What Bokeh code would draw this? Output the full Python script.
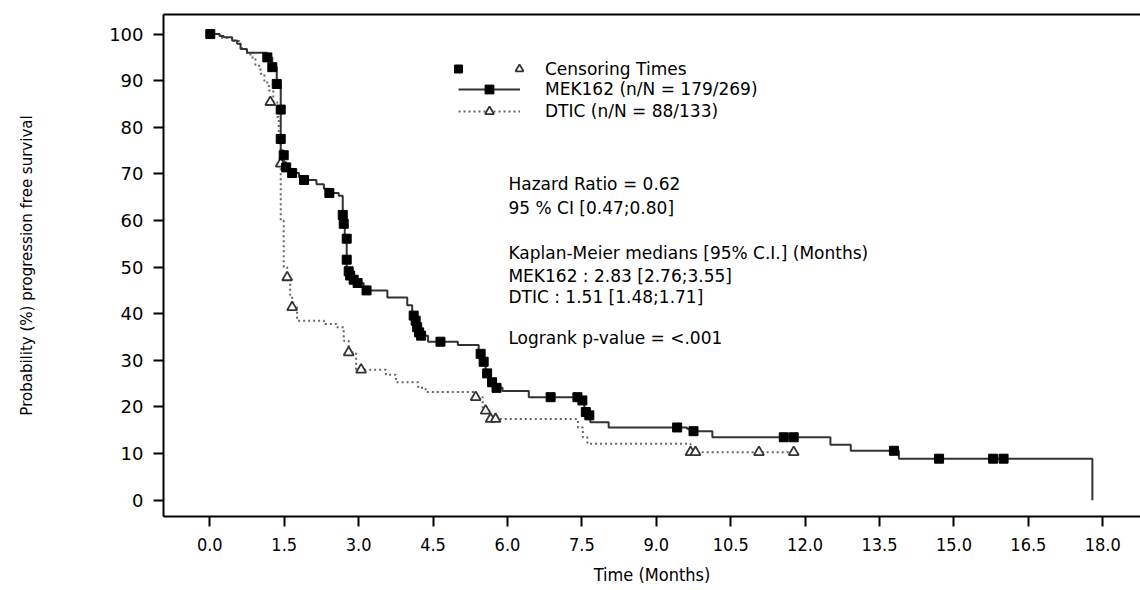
from bokeh.plotting import figure
from bokeh.models import (Range1d, FixedTicker, LinearAxis, Legend, LegendItem,
                          Label, PrintfTickFormatter)
from bokeh.embed import file_html
from bokeh.resources import INLINE

# ---------------- data ----------------
mek_time = [0, 0.20, 0.28, 0.45, 0.55, 0.62, 0.75, 1.16, 1.26, 1.35, 1.43, 1.49, 1.54, 1.62,
            1.80, 1.88, 2.15, 2.30, 2.40, 2.60, 2.68, 2.72, 2.76, 2.82, 2.88, 2.96, 3.10,
            3.58, 3.98, 4.08, 4.13, 4.17, 4.21, 4.25, 4.40, 5.00, 5.42, 5.49, 5.56, 5.64,
            5.73, 5.90, 6.43, 7.48, 7.55, 7.62, 7.67, 8.04, 9.62, 9.72, 10.13, 12.51,
            12.92, 13.89, 17.79]
mek_surv = [100, 99.6, 99.3, 98.6, 97.9, 96.8, 96.0, 95.0, 92.9, 89.3, 75.0, 72.5, 71.0, 70.2,
            69.3, 68.7, 67.8, 66.8, 65.9, 65.3, 61.0, 56.0, 49.5, 48.2, 47.3, 46.6, 45.0,
            43.5, 41.8, 40.0, 38.7, 37.3, 36.2, 35.3, 34.0, 33.3, 31.4, 29.7, 27.5, 25.5,
            24.1, 23.4, 22.1, 21.4, 19.2, 18.2, 16.7, 15.6, 15.3, 14.8, 13.5, 11.9,
            10.6, 8.9, 0]
mek_cens_time = [0.01, 1.16, 1.26, 1.35, 1.43, 1.43, 1.49, 1.54, 1.66, 1.90,
                 2.41, 2.68, 2.70, 2.76, 2.76, 2.80, 2.83, 2.90, 2.98, 3.16,
                 4.11, 4.15, 4.18, 4.22, 4.26, 4.65, 5.46, 5.52, 5.59, 5.69, 5.78,
                 6.87, 7.41, 7.51, 7.58, 7.65, 9.42, 9.75, 11.57, 11.77,
                 13.79, 14.70, 15.79, 16.00]
mek_cens_surv = [100, 95.0, 92.9, 89.3, 83.8, 77.5, 74.0, 71.4, 70.2, 68.7,
                 65.9, 61.2, 59.3, 56.1, 51.6, 49.1, 48.2, 47.3, 46.6, 45.0,
                 39.6, 38.5, 37.1, 36.0, 35.3, 34.0, 31.4, 29.7, 27.2, 25.3, 24.1,
                 22.1, 22.1, 21.4, 18.9, 18.2, 15.6, 14.8, 13.5, 13.5,
                 10.6, 8.9, 8.9, 8.9]

dtic_time = [0, 0.20, 0.45, 0.62, 0.72, 0.82, 0.92, 1.02, 1.10, 1.19, 1.28, 1.36, 1.39, 1.43,
             1.49, 1.56, 1.62, 1.66, 1.76, 2.30, 2.55, 2.70, 2.80, 2.95, 3.55, 3.75, 4.20,
             4.35, 5.36, 5.50, 5.66, 7.42, 7.52, 7.61, 9.69, 11.77]
dtic_surv = [100, 99.2, 98.5, 97.0, 96.0, 95.0, 93.2, 91.5, 89.6, 87.9, 85.4, 82.2, 78.6, 60.0,
             50.0, 47.8, 44.0, 41.4, 38.5, 37.8, 37.1, 34.2, 31.7, 28.0, 26.9, 25.3, 24.1,
             23.2, 22.1, 19.2, 17.4, 15.6, 13.5, 12.1, 10.3, 10.3]
dtic_cens_time = [1.22, 1.43, 1.56, 1.66, 2.80, 3.05, 5.36, 5.56, 5.66, 5.76, 9.69, 9.79, 11.07, 11.77]
dtic_cens_surv = [85.4, 72.2, 47.8, 41.4, 31.7, 28.0, 22.1, 19.2, 17.4, 17.4, 10.3, 10.3, 10.3, 10.3]

x_ticks = [0, 1.5, 3, 4.5, 6, 7.5, 9, 10.5, 12, 13.5, 15, 16.5, 18]
y_ticks = [0, 10, 20, 30, 40, 50, 60, 70, 80, 90, 100]

series_labels = ["MEK162 (n/N = 179/269)", "DTIC (n/N = 88/133)"]
censor_label = "Censoring Times"
annotations = ["Hazard Ratio = 0.62", "95 % CI [0.47;0.80]",
               "Kaplan-Meier medians [95% C.I.] (Months)",
               "MEK162 : 2.83 [2.76;3.55]", "DTIC : 1.51 [1.48;1.71]",
               "Logrank p-value = <.001"]
annotation_y = [67.9, 62.6, 53.1, 48.2, 43.5, 34.7]
annotation_x = 6.02

# ---------------- figure ----------------
p = figure(width=1140, height=590, output_backend="svg", toolbar_location=None,
           x_range=Range1d(-0.933, 18.76), y_range=Range1d(-3.5, 104.2),
           min_border_left=163, min_border_right=0, min_border_top=14, min_border_bottom=74,
           x_axis_label="Time (Months)",
           y_axis_label="Probability (%) progression free survival")
p.xgrid.visible = False
p.ygrid.visible = False
p.outline_line_color = None
p.background_fill_color = "white"
p.border_fill_color = "white"

TICK_FONT = "DejaVu Sans"
NARROW = "DejaVu Sans Condensed"

xa = p.xaxis[0]
xa.ticker = FixedTicker(ticks=x_ticks)
xa.formatter = PrintfTickFormatter(format="%.1f")
ya = p.yaxis[0]
ya.ticker = FixedTicker(ticks=y_ticks)
for ax in (xa, ya):
    ax.axis_line_width = 2
    ax.axis_line_color = "black"
    ax.major_tick_line_width = 2
    ax.major_tick_line_color = "black"
    ax.major_tick_in = 0
    ax.major_tick_out = 10
    ax.minor_tick_line_color = None
    ax.major_label_text_color = "black"
    ax.axis_label_text_color = "black"
    ax.axis_label_text_font_style = "normal"
xa.major_label_text_font = NARROW
xa.major_label_text_font_size = "18px"
xa.major_label_standoff = 11
xa.axis_label_text_font = NARROW
xa.axis_label_text_font_size = "18px"
xa.axis_label_standoff = 10
ya.major_label_text_font = TICK_FONT
ya.major_label_text_font_size = "18px"
ya.major_label_standoff = 10
ya.axis_label_text_font = TICK_FONT
ya.axis_label_text_font_size = "15px"
ya.axis_label_standoff = 70

top = LinearAxis(ticker=FixedTicker(ticks=[]), axis_line_color="black", axis_line_width=2,
                 major_tick_line_color=None, minor_tick_line_color=None,
                 major_label_text_font_size="0px", major_tick_out=0, minor_tick_out=0,
                 major_label_standoff=0)
p.add_layout(top, "above")

# ---------------- curves ----------------
dtic_line = p.step(dtic_time, dtic_surv, mode="after", line_color="#666666",
                   line_width=2, line_dash="2 3")
mek_line = p.step(mek_time, mek_surv, mode="after", line_color="#333333", line_width=2)
dtic_pts = p.scatter(dtic_cens_time, dtic_cens_surv, marker="triangle", size=10,
                     fill_color="white", line_color="#333333", line_width=1.8)
mek_pts = p.scatter(mek_cens_time, mek_cens_surv, marker="square", size=9,
                    fill_color="black", line_color="black")

# ---------------- legends ----------------
common = dict(padding=0, margin=0, border_line_color=None, background_fill_alpha=0,
              label_text_font=TICK_FONT, label_text_font_size="17px",
              label_text_color="black", spacing=0)
leg_a = Legend(items=[LegendItem(label="", renderers=[mek_pts])], location=(285, 437),
               glyph_width=20, glyph_height=21, label_height=21, label_width=0,
               label_standoff=0, **common)
leg_b = Legend(items=[LegendItem(label=censor_label, renderers=[dtic_pts])],
               location=(346, 437), glyph_width=20, glyph_height=21, label_height=21,
               label_standoff=16, **common)
leg_c = Legend(items=[LegendItem(label=series_labels[0], renderers=[mek_line, mek_pts]),
                      LegendItem(label=series_labels[1], renderers=[dtic_line, dtic_pts])],
               location=(295, 394), glyph_width=62, glyph_height=22, label_height=22,
               label_standoff=25, **common)
for lg in (leg_a, leg_b, leg_c):
    p.add_layout(lg)

# ---------------- annotations ----------------
for txt, yy in zip(annotations, annotation_y):
    p.add_layout(Label(x=annotation_x, y=yy, text=txt, text_baseline="middle",
                       text_align="left", text_font=TICK_FONT, text_font_size="17px",
                       text_color="black"))

open("out.html", "w").write(file_html(p, INLINE))
